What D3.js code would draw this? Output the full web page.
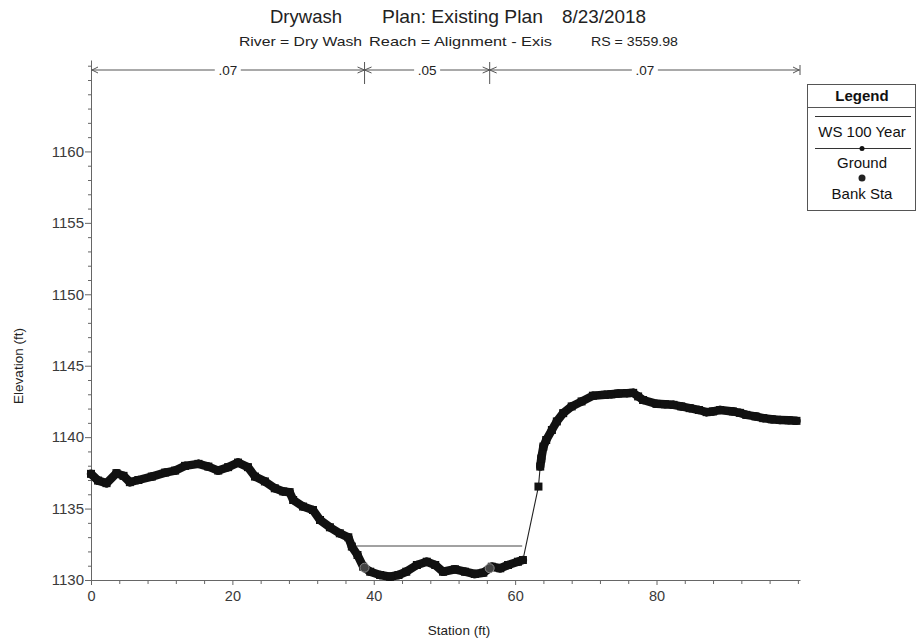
<!DOCTYPE html>
<html><head><meta charset="utf-8">
<script src="https://cdn.jsdelivr.net/npm/d3@7"></script>
<style>body{margin:0;background:#fff}svg{display:block;font-family:"Liberation Sans",Arial,sans-serif}</style>
</head><body><svg id="c" width="917" height="640"></svg>
<script>
const stations = [0,1.0,2.2,3.6,4.6,5.5,6.7,8.6,10.5,11.9,13.3,15.2,16.6,18.0,19.4,20.8,22.2,23.2,24.6,26.0,27.2,28.1,28.6,30.0,31.4,32.4,33.8,35.2,36.4,36.9,37.7,38.5,39.5,40.9,42.3,43.5,44.6,46.1,47.5,48.7,49.8,51.5,52.9,54.3,55.5,56.7,57.9,59.0,60.4,61.1,63.3,63.55,63.7,64.0,64.4,65.2,65.9,66.8,68.0,69.4,71.0,72.7,73.6,74.6,75.8,76.7,77.4,78.1,80.0,81.2,82.4,83.5,84.7,86.0,87.1,88.0,89.0,90.8,91.8,92.7,94.0,95.1,96.3,97.5,98.7,99.8];
const elevations = [1137.43,1136.96,1136.78,1137.48,1137.29,1136.85,1137.0,1137.24,1137.52,1137.66,1137.99,1138.13,1137.94,1137.66,1137.9,1138.22,1137.9,1137.24,1136.9,1136.42,1136.2,1136.15,1135.6,1135.14,1134.9,1134.2,1133.69,1133.27,1132.99,1132.34,1131.75,1130.93,1130.58,1130.35,1130.23,1130.35,1130.58,1131.05,1131.28,1131.05,1130.58,1130.75,1130.58,1130.42,1130.51,1130.93,1130.82,1131.05,1131.28,1131.4,1136.54,1137.94,1138.5,1139.34,1139.8,1140.5,1141.1,1141.68,1142.15,1142.5,1142.9,1142.96,1143.0,1143.05,1143.08,1143.1,1142.85,1142.6,1142.33,1142.3,1142.26,1142.15,1142.03,1141.9,1141.75,1141.8,1141.9,1141.8,1141.7,1141.56,1141.45,1141.33,1141.25,1141.2,1141.18,1141.14];
const wsElevation = 1132.38;
const wsStations = [37.1, 61.0];
const bankStations = [38.7, 56.4];
const nBreaks = [0, 38.7, 56.4, 100.3];
const nValues = [".07", ".05", ".07"];
const xMajorTicks = [0,20,40,60,80];
const yMajorTicks = [1130,1135,1140,1145,1150,1155,1160];
const titleParts = ["Drywash","Plan: Existing Plan","8/23/2018"];
const subtitleParts = ["River = Dry Wash","Reach = Alignment - Exis","RS = 3559.98"];
const legendLabels = ["WS 100 Year","Ground","Bank Sta"];

const svg = d3.select("#c");
const x = d3.scaleLinear([0,100.3],[91,800]);
const y = d3.scaleLinear([1130,1166.4],[580,60]);
const axisColor = "#666";
const textColor = "#3a3a3a";

// titles
const titlePos = [[270,72],[382,161],[562,84]];
const t1 = svg.append("g").attr("font-size",18.5).attr("fill","#222");
titleParts.forEach((t,i)=>t1.append("text").attr("x",titlePos[i][0]).attr("y",23).attr("textLength",titlePos[i][1]).attr("lengthAdjust","spacingAndGlyphs").text(t));
const subPos = [[239,123],[369,183],[591,87]];
const t2 = svg.append("g").attr("font-size",13.5).attr("fill","#222");
subtitleParts.forEach((t,i)=>t2.append("text").attr("x",subPos[i][0]).attr("y",46).attr("textLength",subPos[i][1]).attr("lengthAdjust","spacingAndGlyphs").text(t));

// axes
function styleAxis(g){g.select(".domain").attr("stroke",axisColor);g.selectAll(".tick line").attr("stroke",axisColor);g.selectAll(".tick text").attr("fill",textColor).attr("font-family","'Liberation Sans',Arial,sans-serif");}
const xMinor = d3.range(0,100.3,4).filter(v=>!xMajorTicks.includes(v));
svg.append("g").attr("transform","translate(0,580)")
  .call(d3.axisBottom(x).tickValues(xMinor).tickSize(4).tickFormat("").tickSizeOuter(0))
  .call(g=>{g.select(".domain").remove();g.selectAll("line").attr("stroke",axisColor);});
svg.append("g").attr("transform","translate(0,580)")
  .call(d3.axisBottom(x).tickValues(xMajorTicks).tickSize(5).tickSizeOuter(0).tickPadding(6))
  .attr("font-size",14.5).call(styleAxis);
const yMinor = d3.range(1130,1167,1).filter(v=>!yMajorTicks.includes(v));
svg.append("g").attr("transform","translate(91,0)")
  .call(d3.axisLeft(y).tickValues(yMinor).tickSize(3).tickFormat("").tickSizeOuter(0))
  .call(g=>{g.select(".domain").remove();g.selectAll("line").attr("stroke",axisColor);});
svg.append("g").attr("transform","translate(91,0)")
  .call(d3.axisLeft(y).tickValues(yMajorTicks).tickSize(6).tickSizeOuter(0).tickPadding(1).tickFormat(d3.format("d")))
  .attr("font-size",15).call(styleAxis);

svg.append("text").attr("x",459).attr("y",635).attr("text-anchor","middle").attr("font-size",13.5).attr("fill","#222").text("Station (ft)");
svg.append("text").attr("transform","translate(23,366) rotate(-90)").attr("text-anchor","middle").attr("font-size",13.5).attr("fill","#222").text("Elevation (ft)");

// Manning's n bar
const nY = 70;
const ng = svg.append("g").attr("stroke","#555").attr("fill","none").attr("stroke-width",1);
ng.append("line").attr("x1",x(nBreaks[0])).attr("x2",x(nBreaks[nBreaks.length-1])).attr("y1",nY).attr("y2",nY);
nBreaks.forEach((b,i)=>{
  const px = x(b);
  if(i>0 && i<nBreaks.length-1){
    ng.append("line").attr("x1",px).attr("x2",px).attr("y1",nY-8).attr("y2",nY+14);
    ng.append("path").attr("d",`M${px-7},${nY-3}L${px},${nY}L${px-7},${nY+3}`);
    ng.append("path").attr("d",`M${px+7},${nY-3}L${px},${nY}L${px+7},${nY+3}`);
  } else if(i===0){
    ng.append("path").attr("d",`M${px+7},${nY-3}L${px+1},${nY}L${px+7},${nY+3}`);
  } else {
    ng.append("path").attr("d",`M${px-7},${nY-3}L${px-1},${nY}L${px-7},${nY+3}`);
    ng.append("line").attr("x1",px).attr("x2",px).attr("y1",nY-5).attr("y2",nY+5);
  }
});
nValues.forEach((v,i)=>{
  const cx = x((nBreaks[i]+nBreaks[i+1])/2);
  svg.append("rect").attr("x",cx-13).attr("y",nY-8).attr("width",26).attr("height",16).attr("fill","#fff");
  svg.append("text").attr("x",cx).attr("y",nY+5).attr("text-anchor","middle").attr("font-size",13.5).attr("fill","#222").text(v);
});

// WS line
svg.append("line").attr("x1",x(wsStations[0])).attr("x2",x(wsStations[1])).attr("y1",y(wsElevation)).attr("y2",y(wsElevation))
  .attr("stroke","#444").attr("stroke-width",1);

// Ground
const pts = stations.map((s,i)=>[x(s),y(elevations[i])]);
svg.append("path").attr("d",d3.line()(pts)).attr("fill","none").attr("stroke","#222").attr("stroke-width",1.1);
for(let i=1;i<pts.length;i++){
  const [a,b]=[pts[i-1],pts[i]];
  if(Math.hypot(b[0]-a[0],b[1]-a[1])<17){
    svg.append("line").attr("x1",a[0]).attr("y1",a[1]).attr("x2",b[0]).attr("y2",b[1])
      .attr("stroke","#111").attr("stroke-width",8.5).attr("stroke-linecap","round");
  }
}
svg.append("g").selectAll("rect").data(pts).join("rect")
  .attr("x",d=>d[0]-4).attr("y",d=>d[1]-4).attr("width",8).attr("height",8).attr("fill","#111");

// Bank stations
const interp = s=>{for(let i=1;i<stations.length;i++){if(stations[i]>=s){const t=(s-stations[i-1])/(stations[i]-stations[i-1]);return elevations[i-1]+t*(elevations[i]-elevations[i-1]);}}return elevations[elevations.length-1];};
svg.append("g").selectAll("circle").data(bankStations).join("circle")
  .attr("cx",d=>x(d)).attr("cy",d=>y(interp(d))).attr("r",4.5).attr("fill","#444").attr("stroke","#888").attr("stroke-width",1);

// Legend
const lg = svg.append("g");
lg.append("rect").attr("x",807.5).attr("y",84.5).attr("width",108).attr("height",126).attr("fill","#fff").attr("stroke","#555");
lg.append("line").attr("x1",807.5).attr("x2",915.5).attr("y1",107.5).attr("y2",107.5).attr("stroke","#555");
lg.append("text").attr("x",862).attr("y",101).attr("text-anchor","middle").attr("font-size",15).attr("font-weight","bold").attr("fill","#111").text("Legend");
lg.append("line").attr("x1",815).attr("x2",911).attr("y1",116.5).attr("y2",116.5).attr("stroke","#333");
lg.append("text").attr("x",862).attr("y",137).attr("text-anchor","middle").attr("font-size",15).attr("fill","#111").text(legendLabels[0]);
lg.append("line").attr("x1",815).attr("x2",911).attr("y1",148.5).attr("y2",148.5).attr("stroke","#333");
lg.append("circle").attr("cx",862).attr("cy",148.5).attr("r",2.5).attr("fill","#111");
lg.append("text").attr("x",862).attr("y",167.5).attr("text-anchor","middle").attr("font-size",15).attr("fill","#111").text(legendLabels[1]);
lg.append("circle").attr("cx",862).attr("cy",178).attr("r",3.5).attr("fill","#222");
lg.append("text").attr("x",862).attr("y",198.5).attr("text-anchor","middle").attr("font-size",15).attr("fill","#111").text(legendLabels[2]);
</script></body></html>
